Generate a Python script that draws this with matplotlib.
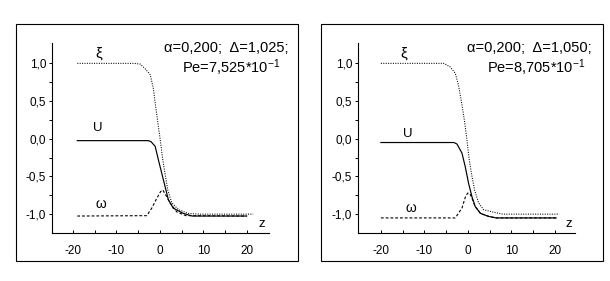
import matplotlib
matplotlib.use('Agg')
from matplotlib import pyplot as plt
from matplotlib.patches import Rectangle

plt.rcParams['font.family'] = ['Liberation Sans', 'DejaVu Sans']
plt.rcParams['mathtext.default'] = 'regular'

# left panel: alpha=0,200; Delta=1,025
xi1_z = [-19, -6, -4.5, -3.4, -2.2, -1.5, -0.7, 0.07, 0.69, 1.2, 1.84, 2.76, 4.3, 6.5, 9, 21.5]
xi1 = [1.0, 1.0, 0.99, 0.93, 0.85, 0.67, 0.32, 0.0, -0.28, -0.46, -0.68, -0.85, -0.94, -0.99, -1.0, -1.0]
u1_z = [-19, -2.6, -2.0, -1.07, -0.32, 0.46, 1.2, 1.98, 3.1, 5.4, 7.5, 20]
u1 = [-0.025, -0.025, -0.04, -0.10, -0.28, -0.46, -0.63, -0.81, -0.92, -0.99, -1.025, -1.025]
om1_z = [-19, -3.0, -1.84, -0.7, 0.2, 0.7, 1.6, 2.35, 3.9, 6, 20]
om1 = [-1.025, -1.02, -0.92, -0.79, -0.70, -0.68, -0.77, -0.85, -0.97, -1.02, -1.025]

# right panel: alpha=0,200; Delta=1,050
xi2_z = [-20, -5.6, -4.1, -2.9, -2.15, -1.36, -0.76, -0.2, 0.32, 0.95, 1.55, 2.47, 3.6, 5.6, 8, 21]
xi2 = [1.0, 1.0, 0.955, 0.87, 0.71, 0.45, 0.23, -0.02, -0.28, -0.50, -0.68, -0.85, -0.94, -0.97, -1.0, -1.0]
u2_z = [-20, -3.2, -2.5, -1.36, -0.6, 0.16, 0.95, 1.7, 2.9, 4.8, 6.5, 20.3]
u2 = [-0.05, -0.05, -0.07, -0.19, -0.37, -0.59, -0.77, -0.90, -0.99, -1.03, -1.05, -1.05]
om2_z = [-20, -2.9, -1.36, -0.5, 0.0, 0.5, 0.95, 1.7, 2.9, 4.8, 6.5, 20.3]
om2 = [-1.05, -1.05, -0.92, -0.76, -0.72, -0.73, -0.79, -0.90, -0.99, -1.03, -1.05, -1.05]

xticks = [-20, -10, 0, 10, 20]
xlabels = ['-20', '-10', '0', '10', '20']
yticks = [-1.0, -0.5, 0.0, 0.5, 1.0]
ylabels = ['-1,0', '-0,5', '0,0', '0,5', '1,0']

titles1 = ['\u03b1=0,200;  \u0394=1,025;', 'Pe=7,525*10$^{-1}$']
titles2 = ['\u03b1=0,200;  \u0394=1,050;', 'Pe=8,705*10$^{-1}$']

W, H = 610, 281
fig = plt.figure(figsize=(6.1, 2.81), dpi=100)


def panel(x0, frame_x, xi_z, xi, u_z, u, om_z, om, lab, xlim):
    # frame around the panel
    fig.patches.append(Rectangle((frame_x / W, 1 - 261 / H), 282 / W, 237 / H,
                                 transform=fig.transFigure, fill=False,
                                 edgecolor='black', linewidth=0.8))
    ax = fig.add_axes([x0 / W, 1 - 233 / H, 216.5 / W, 190 / H])
    ax.plot(xi_z, xi, color='black', lw=0.75, linestyle=(0, (1, 1.3)))
    ax.plot(u_z, u, color='black', lw=0.85)
    ax.plot(om_z, om, color='black', lw=0.8, linestyle=(0, (2.5, 1.8)))
    ax.set_xlim(*xlim)
    ax.set_ylim(-1.25, 1.27)
    for s in ['top', 'right']:
        ax.spines[s].set_visible(False)
    ax.spines['left'].set_linewidth(0.8)
    ax.spines['bottom'].set_linewidth(0.8)
    ax.set_xticks(xticks)
    ax.set_xticklabels(xlabels)
    ax.set_xticks([-15, -5, 5, 15], minor=True)
    ax.set_yticks(yticks)
    ax.set_yticklabels(ylabels)
    ax.set_yticks([-0.75, -0.25, 0.25, 0.75], minor=True)
    ax.tick_params(axis='x', which='both', direction='in', length=2, width=0.7,
                   pad=9, labelsize=8.5)
    ax.tick_params(axis='y', which='both', direction='out', length=2, width=0.7,
                   pad=2.5, labelsize=8.5)
    ax.set_facecolor('none')
    for (tx, ty, t, fs) in lab:
        ax.text(tx, ty, t, fontsize=fs, ha='center', va='center')
    return ax


ax1 = panel(52.3, 16, xi1_z, xi1, u1_z, u1, om1_z, om1,
            [(-14.0, 1.13, '\u03be', 11), (-14.2, 0.14, 'U', 9.5),
             (-13.5, -0.87, '\u03c9', 10), (23.5, -1.13, 'z', 9.5)],
            (-24.75, 25.1))
ax2 = panel(358.3, 321, xi2_z, xi2, u2_z, u2, om2_z, om2,
            [(-14.7, 1.13, '\u03be', 11), (-13.8, 0.06, 'U', 9.5),
             (-13.1, -0.92, '\u03c9', 10), (23.3, -1.13, 'z', 9.5)],
            (-25.2, 24.6))

fig.text(288 / W, 1 - 48 / H, titles1[0], fontsize=10.5, ha='right', va='center')
fig.text(280 / W, 1 - 68 / H, titles1[1], fontsize=10.5, ha='right', va='center')
fig.text(592 / W, 1 - 48 / H, titles2[0], fontsize=10.5, ha='right', va='center')
fig.text(585 / W, 1 - 68 / H, titles2[1], fontsize=10.5, ha='right', va='center')

fig.savefig('out.png', dpi=100)
